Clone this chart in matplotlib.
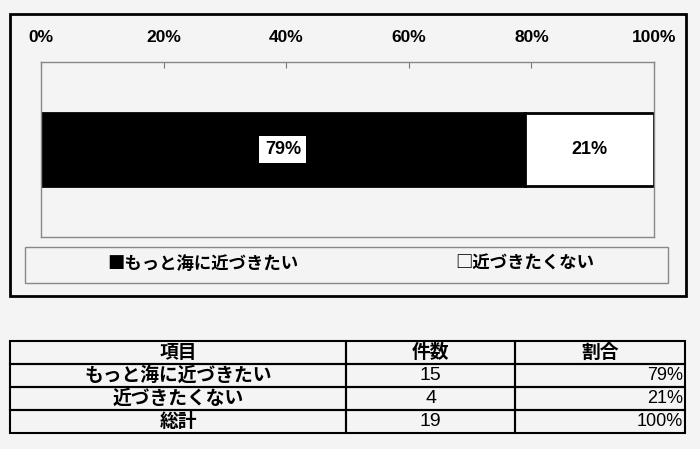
import matplotlib
matplotlib.use("Agg")
import matplotlib.pyplot as plt
from matplotlib.patches import Rectangle
import numpy as np

# ---- data ----
categories = ["もっと海に近づきたい", "近づきたくない"]
counts = [15, 4]
series_colors = ["#000000", "#ffffff"]
legend_marks = ["■", "□"]
tick_values = [0, 20, 40, 60, 80, 100]
tick_labels = ["0%", "20%", "40%", "60%", "80%", "100%"]
table_header = ["項目", "件数", "割合"]
total_label = "総計"

BG = "#f4f4f4"
NUM_FONT = ["Liberation Sans Narrow", "Liberation Sans", "DejaVu Sans"]
JP_FONT = ["Noto Sans CJK JP", "DejaVu Sans"]

total = sum(counts)
pcts = [100.0 * c / total for c in counts]

W, H = 700, 449
fig = plt.figure(figsize=(W / 100, H / 100), dpi=100, facecolor=BG)

# overlay axes in pixel coords for frames
bg = fig.add_axes([0, 0, 1, 1], zorder=0)
bg.set_xlim(0, W)
bg.set_ylim(H, 0)
bg.axis("off")

def frame(x0, y0, x1, y1, lw=1.0, ec="black", fc="none"):
    bg.add_patch(Rectangle((x0, y0), x1 - x0, y1 - y0, lw=lw, ec=ec, fc=fc))

# outer chart box
frame(10, 14, 686, 296, lw=2.0)
# legend box
frame(25, 247, 668, 283, lw=1.0, ec="#888888")

# ---- bar chart axes ----
def pix_axes(x0, y0, x1, y1, **kw):
    return fig.add_axes([x0 / W, 1 - y1 / H, (x1 - x0) / W, (y1 - y0) / H], **kw)

ax = pix_axes(41, 62, 654, 237, zorder=2)
ax.set_facecolor("none")
left = 0.0
for cat, p, col in zip(categories, pcts, series_colors):
    ax.barh(0, p, left=left, height=0.83, color=col, edgecolor="black",
            linewidth=2.0, label=cat)
    cx = left + p / 2
    txt = f"{p:.0f}%"
    if col == "#000000":
        ax.text(cx, 0, txt, ha="center", va="center", fontsize=13,
                fontweight="bold", family=NUM_FONT, color="black",
                bbox=dict(boxstyle="square,pad=0.3", fc="white", ec="none"))
    else:
        ax.text(cx, 0, txt, ha="center", va="center", fontsize=13,
                fontweight="bold", family=NUM_FONT, color="black")
    left += p

ax.set_xlim(0, 100)
ax.set_ylim(-1, 1)
ax.set_yticks([])
ax.xaxis.tick_top()
ax.set_xticks(tick_values)
ax.set_xticklabels(tick_labels, family=NUM_FONT, fontweight="bold", fontsize=12.5)
ax.tick_params(axis="x", direction="in", length=4, color="#777777", pad=12)
for s in ax.spines.values():
    s.set_color("#888888")
    s.set_linewidth(1.0)

# legend entries (text markers like the original)
legend_x = [107, 455]
for lx, m, cat in zip(legend_x, legend_marks, categories):
    bg.text(lx, 264, m + cat, ha="left", va="center", fontsize=12.5,
            family=JP_FONT, fontweight="bold", color="black")

# ---- table ----
tab_ax = pix_axes(10, 341, 685, 433, zorder=2)
tab_ax.axis("off")
rows = [[c, str(n), f"{p:.0f}%"] for c, n, p in zip(categories, counts, pcts)]
rows.append([total_label, str(total), f"{100.0 * total / total:.0f}%"])
cell_text = [table_header] + rows
col_w = np.array([336, 169, 170], dtype=float)
col_w = col_w / col_w.sum()
tbl = tab_ax.table(cellText=cell_text, colWidths=list(col_w), bbox=[0, 0, 1, 1],
                   cellLoc="center")
tbl.auto_set_font_size(False)
for (r, c), cell in tbl.get_celld().items():
    cell.set_linewidth(1.5)
    cell.set_edgecolor("black")
    cell.set_facecolor("none")
    t = cell.get_text()
    t.set_fontsize(13.5)
    if r > 0 and c == 2:
        t.set_family(NUM_FONT)
        t.set_fontsize(13)
        cell._loc = "right"
        t.set_ha("right")
        cell.PAD = 0.01
    elif c == 1 and r > 0:
        t.set_family(NUM_FONT)
        t.set_fontsize(14)
    else:
        t.set_family(JP_FONT)
        t.set_fontweight("bold")

fig.savefig("out.png", dpi=100, facecolor=BG)
